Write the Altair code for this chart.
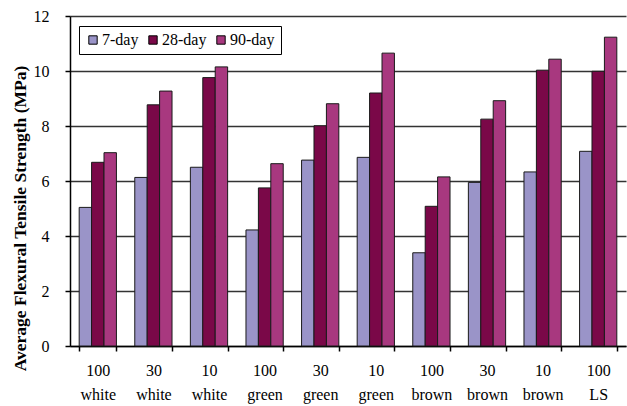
import altair as alt
import pandas as pd

categories = ["100 white", "30 white", "10 white", "100 green", "30 green",
              "10 green", "100 brown", "30 brown", "10 brown", "100 LS"]
series = ["7-day", "28-day", "90-day"]
day7 = [5.04, 6.13, 6.50, 4.22, 6.76, 6.86, 3.39, 5.95, 6.33, 7.08]
day28 = [6.68, 8.77, 9.76, 5.75, 8.01, 9.20, 5.08, 8.25, 10.03, 9.99]
day90 = [7.03, 9.27, 10.15, 6.63, 8.81, 10.65, 6.15, 8.92, 10.43, 11.23]
colors = ["#9a94c8", "#7a0848", "#a8387f"]

rows = []
for s, vals in zip(series, [day7, day28, day90]):
    for c, v in zip(categories, vals):
        rows.append({"cat": c, "series": s, "value": v})
df = pd.DataFrame(rows)

FONT = "'Times New Roman', 'Liberation Serif', 'DejaVu Serif', serif"

chart = alt.Chart(df).mark_bar(stroke="#1a1a1a", strokeWidth=1).encode(
    x=alt.X("cat:N", sort=categories,
            scale=alt.Scale(paddingInner=0.33, paddingOuter=0.165),
            axis=alt.Axis(title=None, labelAngle=0, tickBand="extent",
                          labelExpr="split(datum.label, ' ')",
                          labelFont=FONT, labelFontSize=16, labelColor="#000",
                          labelPadding=11, labelLineHeight=24,
                          tickSize=5, tickColor="#000", domainColor="#000",
                          domainWidth=1.5, tickWidth=1.5, grid=False)),
    xOffset=alt.XOffset("series:N", sort=series),
    y=alt.Y("value:Q", scale=alt.Scale(domain=[0, 12], nice=False),
            axis=alt.Axis(title="Average Flexural Tensile Strength (MPa)",
                          values=[0, 2, 4, 6, 8, 10, 12], tickCount=7,
                          titleFont=FONT, titleFontSize=17.5, titleFontWeight="bold",
                          titleColor="#000", titleX=-50, titleY=202,
                          titleAngle=-90, titleAlign="center", titleBaseline="middle",
                          labelFont=FONT, labelFontSize=16, labelColor="#000",
                          labelPadding=16, tickSize=5, tickColor="#000",
                          tickWidth=1.5, domainColor="#000", domainWidth=1.5,
                          gridColor="#333", gridWidth=1.5)),
    color=alt.Color("series:N", sort=series,
                    scale=alt.Scale(domain=series, range=colors),
                    legend=alt.Legend(title=None, orient="none", legendX=9, legendY=10,
                                      direction="horizontal", symbolType="square",
                                      symbolSize=70, symbolStrokeColor="#000",
                                      symbolStrokeWidth=1,
                                      labelFont=FONT, labelFontSize=16, labelColor="#000",
                                      labelOffset=1, columnPadding=6,
                                      strokeColor="#000", padding=6,
                                      fillColor="white")),
).properties(
    width=556, height=330,
    autosize=alt.AutoSizeParams(type="none"),
    padding={"left": 70, "top": 16, "right": 1, "bottom": 60},
).configure(background="white", font=FONT).configure_view(stroke=None).configure_axis(
    labelFont=FONT, titleFont=FONT
).configure_legend(labelFont=FONT)

chart.save("out.html", embed_options={"renderer": "svg", "actions": False})
